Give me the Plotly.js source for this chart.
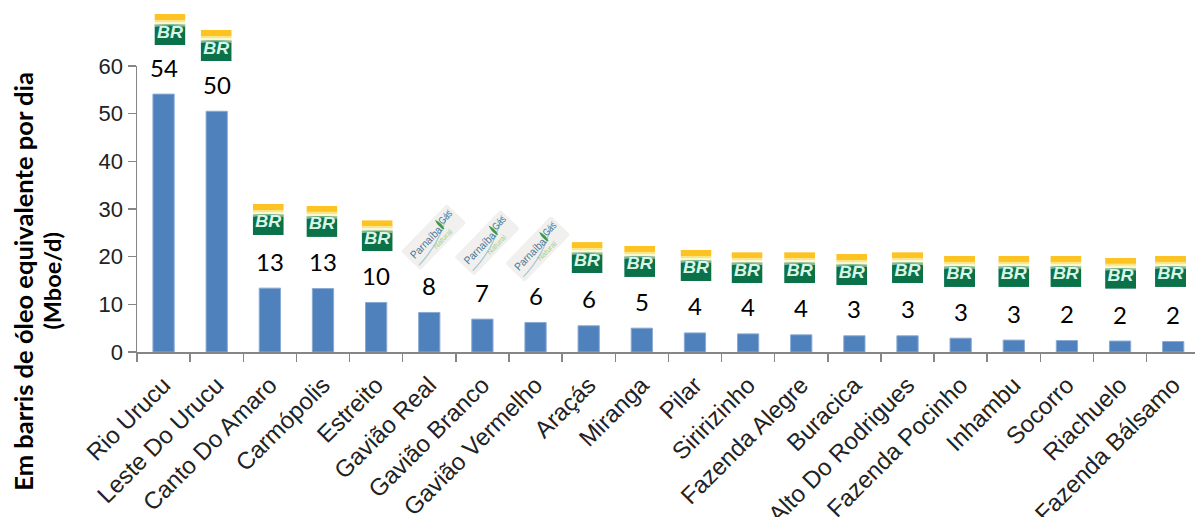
<!DOCTYPE html>
<html><head><meta charset="utf-8">
<script src="https://cdn.plot.ly/plotly-3.0.1.min.js"></script>
<style>html,body{margin:0;padding:0;background:#fff;overflow:hidden}#c{width:1195px;height:517px}</style>
</head><body><div id="c"></div>
<script>
const campos = ["Rio Urucu","Leste Do Urucu","Canto Do Amaro","Carmópolis","Estreito","Gavião Real","Gavião Branco","Gavião Vermelho","Araçás","Miranga","Pilar","Siririzinho","Fazenda Alegre","Buracica","Alto Do Rodrigues","Fazenda Pocinho","Inhambu","Socorro","Riachuelo","Fazenda Bálsamo"];
const producao = [54.1,50.5,13.4,13.3,10.4,8.3,6.9,6.2,5.5,5.0,4.0,3.8,3.6,3.4,3.4,2.9,2.5,2.4,2.3,2.2];
const rotulos = ["54","50","13","13","10","8","7","6","6","5","4","4","4","3","3","3","3","2","2","2"];
const operador = ["BR","BR","BR","BR","BR","PG","PG","PG","BR","BR","BR","BR","BR","BR","BR","BR","BR","BR","BR","BR"];
const logoEixoX = [0.12,0.99,1.97,2.98,4.02,5.08,6.09,7.04,7.97,8.96,10.02,10.98,11.97,12.95,14.0,14.98,16.0,16.98,18.01,18.95];
const logoEixoY = [67.65,64.3,27.8,27.4,24.4,24.1,22.9,21.6,19.8,19.0,18.15,17.7,17.7,17.3,17.7,16.9,16.9,16.9,16.5,16.9];

const margem = {l:136.5,r:0,t:66,b:165};
const W = 1195, H = 517, plotW = W-margem.l-margem.r, plotH = H-margem.t-margem.b;
const xRange = [-0.5,19.41], yRange = [0,60];

const brSvg = `<svg xmlns="http://www.w3.org/2000/svg" width="93" height="93" viewBox="0 0 31 31"><rect width="31" height="31" fill="#fff"/><rect width="31" height="6" fill="#fdc323"/><rect y="6" width="31" height="2" fill="#f8e58a"/><rect y="8" width="31" height="2.5" fill="#fdf8c8"/><rect y="10.5" width="31" height="20.5" fill="#0a7148"/><path d="M0 10 Q15 12 31 10 L31 13 Q15 10 0 13Z" fill="#eef4d6" opacity=".55"/><text x="15.5" y="23.5" text-anchor="middle" font-family="Liberation Sans" font-weight="bold" font-style="italic" font-size="17" textLength="26" lengthAdjust="spacingAndGlyphs" fill="#d8f5e8">BR</text></svg>`;
const pgSvg = `<svg xmlns="http://www.w3.org/2000/svg" width="210" height="210" viewBox="0 0 70 70"><g transform="rotate(-46 35 35)"><rect x="2" y="21.5" width="66" height="27" rx="2" fill="#f1f0ee"/><path d="M5 44 Q38 44 65 26" stroke="#a9c9d6" stroke-width="1.3" fill="none"/><text x="6" y="37" font-family="Liberation Sans" font-size="11" fill="#44789a" textLength="40" lengthAdjust="spacingAndGlyphs">Parnaíba</text><path d="M47.5 37 Q45.5 30 48.5 24 Q51 31 48.5 37Z" fill="#3f9b4a"/><text x="50" y="33" font-family="Liberation Sans" font-size="10" fill="#44789a" textLength="15" lengthAdjust="spacingAndGlyphs">Gás</text><text x="28" y="45.5" font-family="Liberation Sans" font-size="7.5" fill="#a6d07c">Natural</text></g></svg>`;
const uri = s => "data:image/svg+xml;charset=utf-8," + encodeURIComponent(s);
const fx = v => (v-xRange[0])/(xRange[1]-xRange[0]);
const fy = v => (v-yRange[0])/(yRange[1]-yRange[0]);

const images = campos.map((c,i)=>{
  const br = operador[i]==="BR", lado = br?31:70;
  return {source: uri(br?brSvg:pgSvg), xref:"paper", yref:"paper", x:fx(logoEixoX[i]), y:fy(logoEixoY[i]), xanchor:"center", yanchor:"middle",
    sizex: lado/plotW, sizey: lado/plotH, sizing:"stretch", layer:"above"};
});
const annotations = campos.map((c,i)=>({x:c, y:producao[i], xref:"x", yref:"y", text:rotulos[i], showarrow:false, yshift:27, yanchor:"middle", xanchor:"center",
  font:{family:"Lato, sans-serif", size:24, color:"#000"}}));
annotations.push({xref:"paper", yref:"paper", x:(23-margem.l)/plotW, y:0.248, xanchor:"center", yanchor:"middle", showarrow:false, textangle:-90,
  text:"<b>Em barris de óleo equivalente por dia</b>", font:{family:"Lato, sans-serif", size:25.5, color:"#000"}});
annotations.push({xref:"paper", yref:"paper", x:(52-margem.l)/plotW, y:0.248, xanchor:"center", yanchor:"middle", showarrow:false, textangle:-90,
  text:"<b>(Mboe/d)</b>", font:{family:"Lato, sans-serif", size:23.5, color:"#000"}});

const eixo = {ticks:"outside", ticklen:8, tickwidth:1.5, tickcolor:"#868686", showline:true, linecolor:"#868686", linewidth:1.5, showgrid:false, zeroline:false, automargin:false};
const layout = {
  width:W, height:H, margin:margem, paper_bgcolor:"#fff", plot_bgcolor:"#fff", showlegend:false, bargap:0.6,
  xaxis:Object.assign({type:"category", range:xRange, tickson:"boundaries", tickangle:-45, ticklabelstandoff:8, tickfont:{family:"Liberation Sans",size:24,color:"#222"}},eixo),
  yaxis:Object.assign({range:yRange, tickvals:[0,10,20,30,40,50,60], tickfont:{family:"Liberation Sans",size:22,color:"#222"}},eixo),
  images, annotations
};
Plotly.newPlot("c",[{type:"bar",x:campos,y:producao,marker:{color:"#4f81bd",line:{color:"#8aaad4",width:1}},hoverinfo:"x+y"}],layout,{displayModeBar:false,staticPlot:true});
</script></body></html>
